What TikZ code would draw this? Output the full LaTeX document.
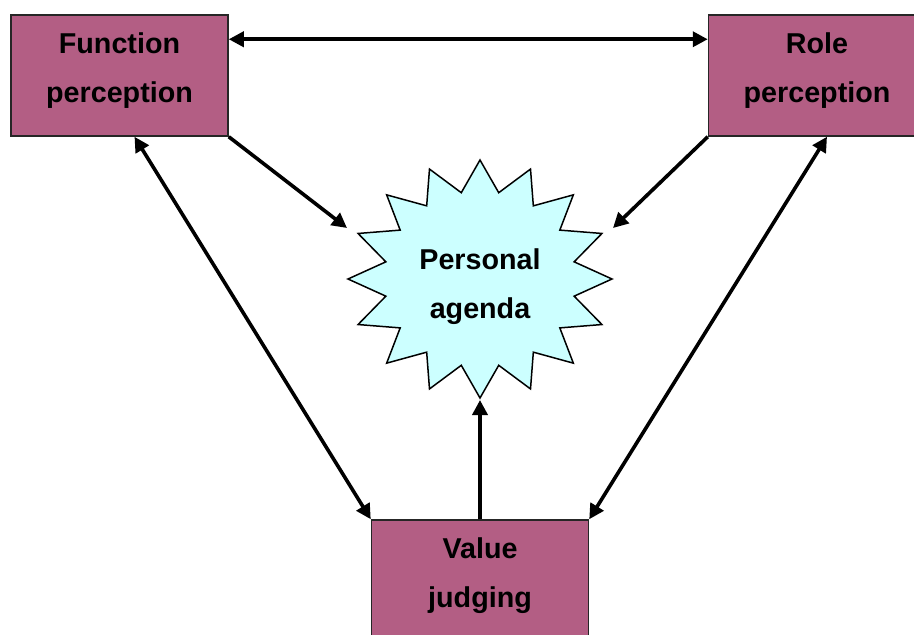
\documentclass[tikz,border=0pt]{standalone}
\usepackage{fontspec}
\setmainfont{Liberation Sans}
\usetikzlibrary{arrows.meta,calc}
\definecolor{boxfill}{RGB}{179,94,132}
\definecolor{starfill}{RGB}{204,255,255}
\tikzset{
  lbl/.style={font=\fontsize{28.7}{49}\selectfont\bfseries, align=center, inner sep=0pt},
  box/.style={lbl, draw=black!85, line width=1.5pt, fill=boxfill,
    minimum width=217pt, minimum height=121pt, text height=70pt, text depth=17pt},
  starline/.style={draw=black, line width=1.5pt, fill=starfill, line join=miter},
  arr/.style={line width=3.6pt, -{Triangle[length=15pt,width=15pt]}},
  biarr/.style={line width=3.6pt, {Triangle[length=15pt,width=15pt]}-{Triangle[length=15pt,width=15pt]}},
}
\begin{document}
\begin{tikzpicture}[x=1pt, y=-1pt]
\clip (0,0) rectangle (914,635);

% the three perception / judging boxes
\node[box] (fp) at (119.5,75.5) {Function\\perception};
\node[box] (rp) at (817,75.5) {Role\\perception};
\node[box] (vj) at (480,580.5) {Value\\judging};

% sixteen-point star
\coordinate (pac) at (480,279);
\draw[starline] ($(pac)+(0:132 and 119)$)
  \foreach \k in {0,...,15} {
    -- ($(pac)+(\k*22.5+11.25:96 and 88)$)
    -- ($(pac)+(\k*22.5+22.5:132 and 119)$)
  } -- cycle;
\node[lbl] (pa) at (480,287) {Personal\\agenda};

% arrow ends at the star
\coordinate (pa-l) at (347,228);
\coordinate (pa-r) at (613,228);
\coordinate (pa-b) at (480,400);

% connectors
\draw[biarr] ($(fp.north east)+(0,25)$) -- ($(rp.north west)+(0,25)$);
\draw[arr] (fp.south east) -- (pa-l);
\draw[arr] (rp.south west) -- (pa-r);
\draw[arr] (vj.north) -- (pa-b);
\draw[biarr] ($(fp.south)+(15,0)$) -- (vj.north west);
\draw[biarr] ($(rp.south)+(10,0)$) -- (vj.north east);
\end{tikzpicture}
\end{document}
